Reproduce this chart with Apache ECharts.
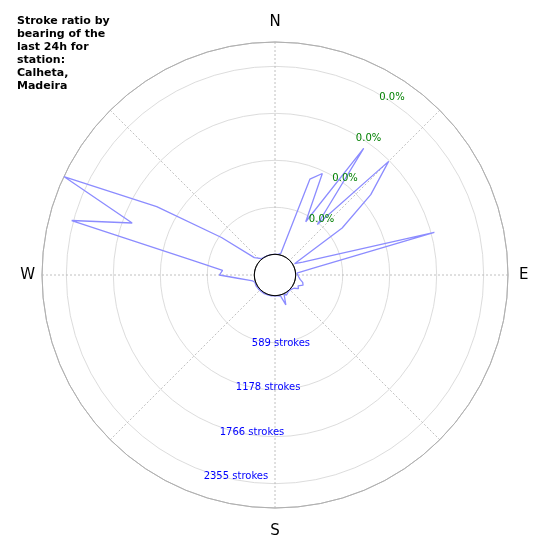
<!DOCTYPE html>
<html>
<head>
<meta charset="utf-8">
<script src="https://cdn.jsdelivr.net/npm/echarts@6/dist/echarts.min.js"></script>
<style>
html,body{margin:0;padding:0;background:#fff;}
#chart{width:550px;height:550px;}
</style>
</head>
<body>
<div id="chart"></div>
<script>
// Bearings (degrees clockwise from north), 5-degree bins
const bearings = [0,5,10,15,20,25,30,35,40,45,50,55,60,65,70,75,80,85,90,95,100,105,110,115,
  120,125,130,135,140,145,150,155,160,165,170,175,180,185,190,195,200,205,210,215,220,225,230,235,
  240,245,250,255,260,265,270,275,280,285,290,295,300,305,310,315,320,325,330,335,340,345,350,355];
// Strokes per bearing bin
const strokes = [0,0,5,20,1018,1144,511,1677,567,1754,1307,768,23,125,387,1808,228,15,10,40,60,100,115,60,
  80,30,15,10,5,15,30,10,138,15,5,0,0,0,5,10,5,10,10,5,10,10,12,10,
  15,10,8,30,96,210,438,400,789,2378,1645,2660,1452,559,79,41,10,5,0,0,0,0,0,0];
// Radius scale: ring labels
const strokeTicks = [589, 1178, 1766, 2355];
const radiusMax = 2660;
const tickInterval = 588.75;
const pctLabel = '0.0%';
const compass = {0:'{n|N}', 90:'{e|E}', 180:'{s|S}', 270:'{w|W}'};
const titleLines = ['Stroke ratio by','bearing of the','last 24h for','station:','Calheta,','Madeira'];

const lineData = bearings.map((b, i) => [strokes[i], b]);
lineData.push([strokes[0], 360]);

const C = [275, 275];
const R = [20.7, 233];
const FONT = 'DejaVu Sans';
const cmp = {fontFamily: FONT, fontSize: 15, color: '#000'};

const chart = echarts.init(document.getElementById('chart'), null, {renderer: 'canvas'});
const labelR = v => v > 1 && v < radiusMax - 100;
chart.setOption({
  animation: false,
  backgroundColor: '#fff',
  title: {
    text: titleLines.join('\n'),
    left: 17, top: 15, padding: 0,
    textStyle: {fontFamily: FONT, fontSize: 11, fontWeight: 'bold', color: '#000', lineHeight: 13}
  },
  polar: [
    {center: C, radius: R},
    {center: C, radius: R},
    {center: C, radius: R},
    {center: C, radius: [0, R[0]]}
  ],
  angleAxis: [
    {
      polarIndex: 0, type: 'value', min: 0, max: 360, interval: 45,
      startAngle: 90, clockwise: true,
      axisLine: {show: true, lineStyle: {color: '#b0b0b0', width: 1}},
      axisTick: {show: false},
      axisLabel: {
        show: true, margin: 7,
        fontFamily: FONT, fontSize: 15, color: '#000',
        formatter: v => compass[v] || '',
        rich: {
          n: Object.assign({padding: [0, 0, 5, 0]}, cmp),
          s: Object.assign({padding: [9, 0, 0, 0]}, cmp),
          e: Object.assign({padding: [0, 0, 0, 4]}, cmp),
          w: Object.assign({}, cmp)
        }
      },
      splitLine: {show: true, lineStyle: {color: '#b0b0b0', width: 0.8, type: [2, 2]}}
    },
    {polarIndex: 1, type: 'value', min: 0, max: 360, startAngle: -110, clockwise: true, show: false},
    {polarIndex: 2, type: 'value', min: 0, max: 360, startAngle: 60, clockwise: true, show: false},
    {
      polarIndex: 3, type: 'value', min: 0, max: 360, startAngle: 90, clockwise: true, z: 10,
      axisLine: {show: true, lineStyle: {color: '#000', width: 1}},
      axisTick: {show: false}, axisLabel: {show: false}, splitLine: {show: false}
    }
  ],
  radiusAxis: [
    {
      polarIndex: 0, type: 'value', min: 0, max: radiusMax, interval: tickInterval,
      axisLine: {show: false}, axisTick: {show: false}, axisLabel: {show: false},
      splitLine: {show: true, lineStyle: {color: ['#000', '#d3d3d3', '#d3d3d3', '#d3d3d3', '#d3d3d3', '#b0b0b0'], width: 0.8}}
    },
    {
      polarIndex: 1, type: 'value', min: 0, max: radiusMax, interval: tickInterval, z: 6,
      axisLine: {show: false}, axisTick: {show: false}, splitLine: {show: false},
      axisLabel: {
        show: true, margin: 0, align: 'left', verticalAlign: 'top', rotate: 0,
        fontFamily: FONT, fontSize: 10, color: '#0000ff',
        showMinLabel: false, showMaxLabel: false,
        formatter: v => {
          if (!labelR(v)) return '';
          const k = Math.round(v / tickInterval) - 1;
          return strokeTicks[k] + ' strokes';
        }
      }
    },
    {
      polarIndex: 2, type: 'value', min: 0, max: radiusMax, interval: tickInterval, z: 6,
      axisLine: {show: false}, axisTick: {show: false}, splitLine: {show: false},
      axisLabel: {
        show: true, margin: 0, align: 'left', verticalAlign: 'top', rotate: 0,
        lineHeight: 6,
        fontFamily: FONT, fontSize: 10, color: '#008000',
        showMinLabel: false, showMaxLabel: false,
        formatter: v => labelR(v) ? pctLabel : ''
      }
    },
    {polarIndex: 3, type: 'value', min: 0, max: 1, show: false}
  ],
  series: [{
    type: 'line', coordinateSystem: 'polar', polarIndex: 0,
    data: lineData, symbol: 'none', smooth: false,
    lineStyle: {color: '#8c8cff', width: 1.3},
    z: 3
  }]
});
</script>
</body>
</html>
